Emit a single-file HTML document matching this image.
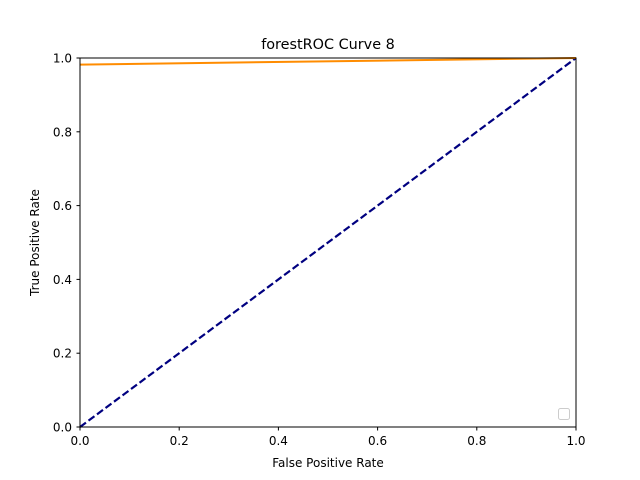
<!DOCTYPE html>
<html><head><meta charset="utf-8"><style>
body{margin:0;background:#fff}
svg{display:block;font-family:"DejaVu Sans","Liberation Sans",sans-serif}
</style></head><body>
<svg id="c" width="640" height="480" viewBox="0 0 640 480">
<rect width="640" height="480" fill="#fff"/>
<text x="328" y="49" font-size="14.4" text-anchor="middle">forestROC Curve 8</text>
<g id="ticks"></g>
<g id="series"></g>
<rect x="80" y="58" width="496" height="369" fill="none" stroke="#000" stroke-width="1"/>
<rect x="558.5" y="408.5" width="11" height="11" rx="2" fill="#fff" stroke="#ccc"/>
<text x="328" y="467" font-size="12" text-anchor="middle">False Positive Rate</text>
<text transform="translate(39,242.5) rotate(-90)" font-size="12" text-anchor="middle">True Positive Rate</text>
</svg>
<script>
const xTicks=[0,0.2,0.4,0.6,0.8,1.0];
const yTicks=[0,0.2,0.4,0.6,0.8,1.0];
const xTickLabels=["0.0","0.2","0.4","0.6","0.8","1.0"];
const yTickLabels=["0.0","0.2","0.4","0.6","0.8","1.0"];
const rocFpr=[0,1];
const rocTpr=[0.982,1];
const diagX=[0,1];
const diagY=[0,1];
const NS="http://www.w3.org/2000/svg";
const X=v=>80+v*496, Y=v=>427-v*369;
const tg=document.getElementById('ticks'), sg=document.getElementById('series');
function mk(t,a,p){const e=document.createElementNS(NS,t);for(const k in a)e.setAttribute(k,a[k]);p.appendChild(e);return e;}
xTicks.forEach((v,i)=>{
 const l=mk('line',{x1:X(v),x2:X(v),y1:427,y2:430.5,stroke:'#000'},tg);
 
 
 const t=mk('text',{x:X(v),y:445,'font-size':12,'text-anchor':'middle'},tg);t.textContent=xTickLabels[i];
 
 
});
yTicks.forEach((v,i)=>{
 const l=mk('line',{x1:76.5,x2:80,y1:Y(v),y2:Y(v),stroke:'#000'},tg);
 
 
 const t=mk('text',{x:72,y:Y(v)+4.5,'font-size':12,'text-anchor':'end'},tg);t.textContent=yTickLabels[i];
 
 
});
const d=mk('polyline',{points:diagX.map((v,i)=>X(v)+','+Y(diagY[i])).join(' '),fill:'none',stroke:'#000080','stroke-width':2.2,'stroke-dasharray':'7.4,3.2'},sg);


const r=mk('polyline',{points:rocFpr.map((v,i)=>X(v)+','+Y(rocTpr[i])).join(' '),fill:'none',stroke:'#ff8c00','stroke-width':2},sg);


</script>
</body></html>
